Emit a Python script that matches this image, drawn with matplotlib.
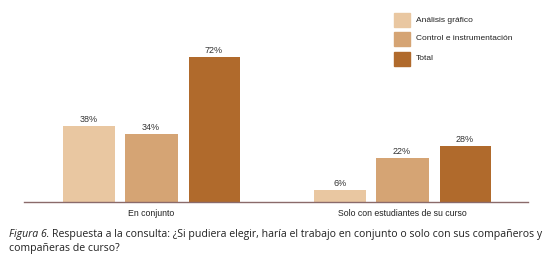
import matplotlib
matplotlib.use("Agg")
import matplotlib.pyplot as plt
import numpy as np
from matplotlib import font_manager

categories = ["En conjunto", "Solo con estudiantes de su curso"]
series_names = ["Análisis gráfico", "Control e instrumentación", "Total"]
analisis = [38, 6]
control = [34, 22]
total = [72, 28]
colors = ["#E9C7A1", "#D5A474", "#B06A2C"]

names = {f.name for f in font_manager.fontManager.ttflist}
narrow = "Liberation Sans Narrow" if "Liberation Sans Narrow" in names else "Liberation Sans"

W, H = 556, 267
fig = plt.figure(figsize=(W / 100, H / 100), dpi=100)
fig.patch.set_facecolor("white")

def fx(px):
    return px / W

def fy(py):
    return 1 - py / H

ax_left, ax_right, ax_bottom, ax_top = 24, 528, 202, 41
ax = fig.add_axes([fx(ax_left), fy(ax_bottom), fx(ax_right - ax_left), (ax_bottom - ax_top) / H])
c1, c2 = 151, 402
scale = 1.0 / (c2 - c1)  # data units per px
ax.set_xlim((ax_left - c1) * scale, (ax_right - c1) * scale)
ax.set_ylim(0, 80)

series = [analisis, control, total]
offsets_px = [-62, 0, 63]
widths_px = [52, 53, 51]
x = np.arange(len(categories))
for s, vals, off, w, col in zip(series_names, series, offsets_px, widths_px, colors):
    xs = x + off * scale
    ax.bar(xs, vals, width=w * scale, color=col, label=s)
    for xi, v in zip(xs, vals):
        ax.text(xi, v + 1.0, f"{v}%", ha="center", va="bottom", fontsize=6.5,
                family=narrow, color="#333333")

for sp in ["top", "right", "left"]:
    ax.spines[sp].set_visible(False)
ax.spines["bottom"].set_color("#8A6A6A")
ax.spines["bottom"].set_linewidth(1.0)
ax.set_yticks([])
ax.set_xticks(x)
ax.set_xticklabels(categories, fontsize=6.3, family=narrow, color="#222222")
ax.tick_params(axis="x", length=0, pad=5)

# legend
leg_y = [20, 39, 59]
for name, col, yy in zip(series_names, colors, leg_y):
    fig.patches.append(plt.Rectangle((fx(394), fy(yy + 7)), fx(16), 14 / H,
                                     transform=fig.transFigure, color=col))
    fig.text(fx(416), fy(yy), name, fontsize=6.0 if narrow == "Liberation Sans" else 6.5,
             family=narrow, va="center", ha="left", color="#222222")

# caption
cap_font = "Open Sans"
cap_size = 7.6
fig.canvas.draw()
r = fig.canvas.get_renderer()
t1 = fig.text(fx(9), fy(235), "Figura 6.", fontsize=cap_size, style="italic",
              family=cap_font, va="center", ha="left", color="#222222")
bb = t1.get_window_extent(renderer=r)
fig.text((bb.x1 + 3) / W, fy(235),
         "Respuesta a la consulta: ¿Si pudiera elegir, haría el trabajo en conjunto o solo con sus compañeros y",
         fontsize=cap_size, family=cap_font, va="center", ha="left", color="#222222")
fig.text(fx(9), fy(248), "compañeras de curso?", fontsize=cap_size, family=cap_font,
         va="center", ha="left", color="#222222")

fig.savefig("out.png", dpi=100)
